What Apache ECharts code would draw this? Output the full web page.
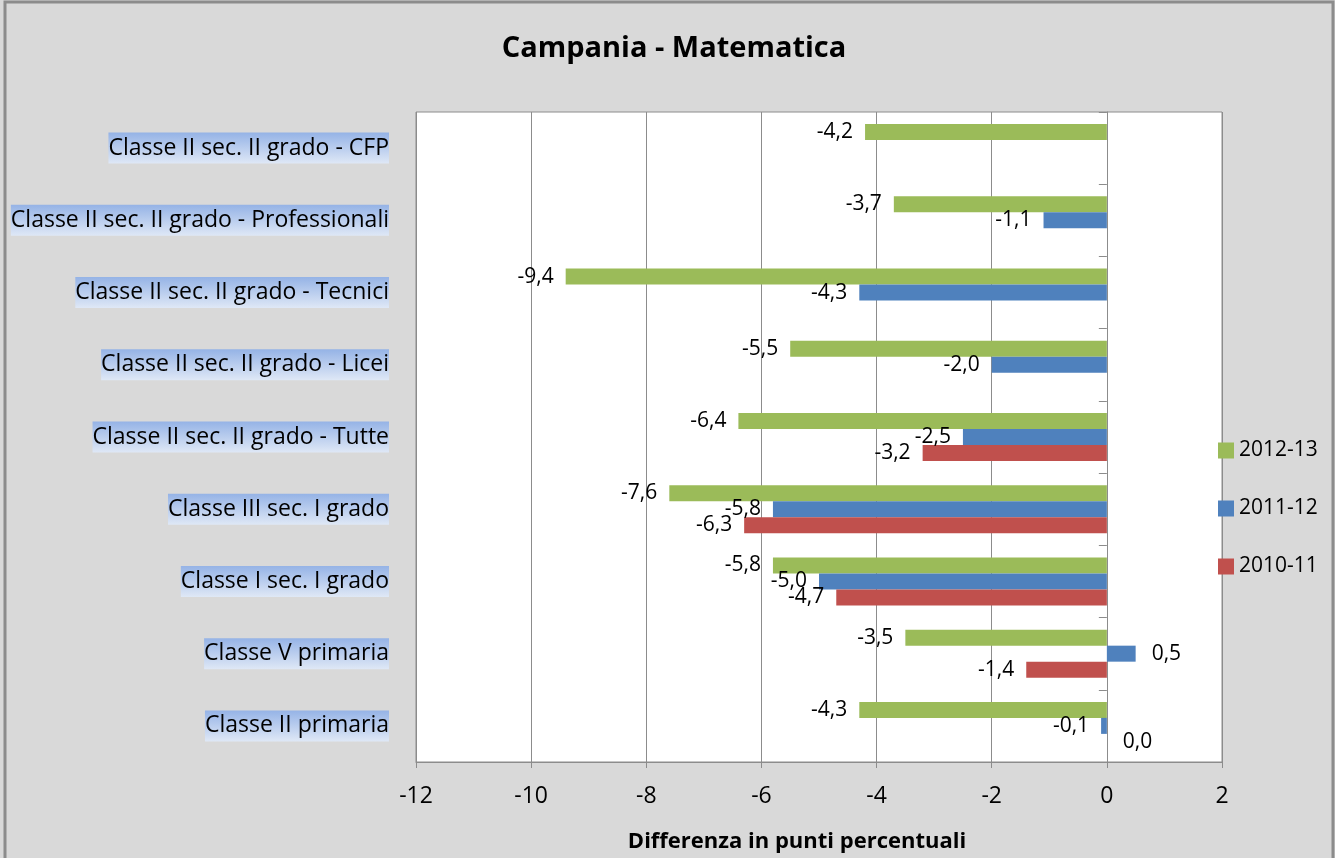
<!DOCTYPE html>
<html>
<head>
<meta charset="utf-8">
<script src="https://cdn.jsdelivr.net/npm/echarts@6/dist/echarts.min.js"></script>
<style>
  html, body { margin: 0; padding: 0; background: #d9d9d9; }
  #chart { width: 1335px; height: 858px; }
</style>
</head>
<body>
<div id="chart"></div>
<script>
// categories bottom -> top (as in the reference)
const categories = [
  "Classe II primaria",
  "Classe V primaria",
  "Classe I sec. I grado",
  "Classe III sec. I grado",
  "Classe II sec. II grado - Tutte",
  "Classe II sec. II grado - Licei",
  "Classe II sec. II grado - Tecnici",
  "Classe II sec. II grado - Professionali",
  "Classe II sec. II grado - CFP",
];
const values1213 = [-4.3, -3.5, -5.8, -7.6, -6.4, -5.5, -9.4, -3.7, -4.2];
const values1112 = [-0.1, 0.5, -5.0, -5.8, -2.5, -2.0, -4.3, -1.1, null];
const values1011 = [0.0, -1.4, -4.7, -6.3, -3.2, null, null, null, null];
const xTicks = [-12, -10, -8, -6, -4, -2, 0, 2];

const FONT = "'Open Sans', 'Noto Sans', sans-serif";

const fmt = (p) => p.value == null ? "" : p.value.toFixed(1).replace(".", ",");

function barSeries(name, data, color) {
  return {
    name: name,
    type: "bar",
    yAxisIndex: 0,
    barWidth: 16,
    barGap: "0%",
    itemStyle: { color: color },
    data: data.map((v) => ({
      value: v,
      label: {
        show: v != null,
        position: v < 0 ? "left" : "right",
        distance: v < 0 ? 12 : 16,
        formatter: fmt,
        fontFamily: FONT,
        fontSize: 21,
        color: "#000",
      },
    })),
  };
}

const chart = echarts.init(document.getElementById("chart"));
chart.setOption({
  backgroundColor: "#d9d9d9",
  animation: false,
  title: {
    text: "Campania - Matematica",
    left: 669,
    top: 29,
    textAlign: "center",
    textStyle: { fontFamily: FONT, fontSize: 29, fontWeight: "bold", color: "#000" },
  },
  legend: {
    orient: "vertical",
    left: 1213,
    top: 435,
    itemWidth: 16,
    itemHeight: 16,
    itemGap: 37,
    icon: "rect",
    data: ["2012-13", "2011-12", "2010-11"],
    textStyle: { fontFamily: FONT, fontSize: 21, color: "#000" },
  },
  grid: {
    left: 416,
    right: 113,
    top: 112,
    bottom: 93,
    show: true,
    backgroundColor: "#fff",
    borderColor: "#8c8c8c",
    borderWidth: 1,
  },
  xAxis: {
    type: "value",
    min: xTicks[0],
    max: xTicks[xTicks.length - 1],
    interval: 2,
    name: "Differenza in punti percentuali",
    nameLocation: "middle",
    nameGap: 69,
    nameTextStyle: { fontFamily: FONT, fontSize: 22, fontWeight: "bold", color: "#000", padding: [0, 44, 0, 0] },
    axisLine: { show: true, lineStyle: { color: "#8c8c8c" } },
    axisTick: { show: true, length: 6, lineStyle: { color: "#8c8c8c" } },
    axisLabel: { fontFamily: FONT, fontSize: 23, color: "#000", margin: 23 },
    splitLine: { show: true, lineStyle: { color: "#8c8c8c" } },
  },
  yAxis: [
    {
      type: "category",
      data: categories,
      position: "left",
      axisLine: { show: false, onZero: false },
      axisTick: { show: false },
      axisLabel: {
        fontFamily: FONT,
        fontSize: 23,
        color: "#000",
        margin: 27,
        padding: [6, 0, 2, 0],
        backgroundColor: new echarts.graphic.LinearGradient(0, 0, 0, 1, [
          { offset: 0, color: "#95b3e6" },
          { offset: 1, color: "#dfe8f6" },
        ]),
      },
    },
    {
      type: "category",
      data: categories,
      position: "left",
      axisLine: { show: true, onZero: true, lineStyle: { color: "#8c8c8c" } },
      axisTick: { show: true, length: 8, lineStyle: { color: "#8c8c8c" } },
      axisLabel: { show: false },
    },
  ],
  series: [
    barSeries("2012-13", values1213, "#9bbb59"),
    barSeries("2011-12", values1112, "#4f81bd"),
    barSeries("2010-11", values1011, "#c0504d"),
  ],
  graphic: [
    {
      type: "rect",
      shape: { x: 5, y: 2, width: 1328, height: 870 },
      style: { fill: null, stroke: "#8c8c8c", lineWidth: 3 },
      silent: true,
    },
  ],
});
</script>
</body>
</html>
